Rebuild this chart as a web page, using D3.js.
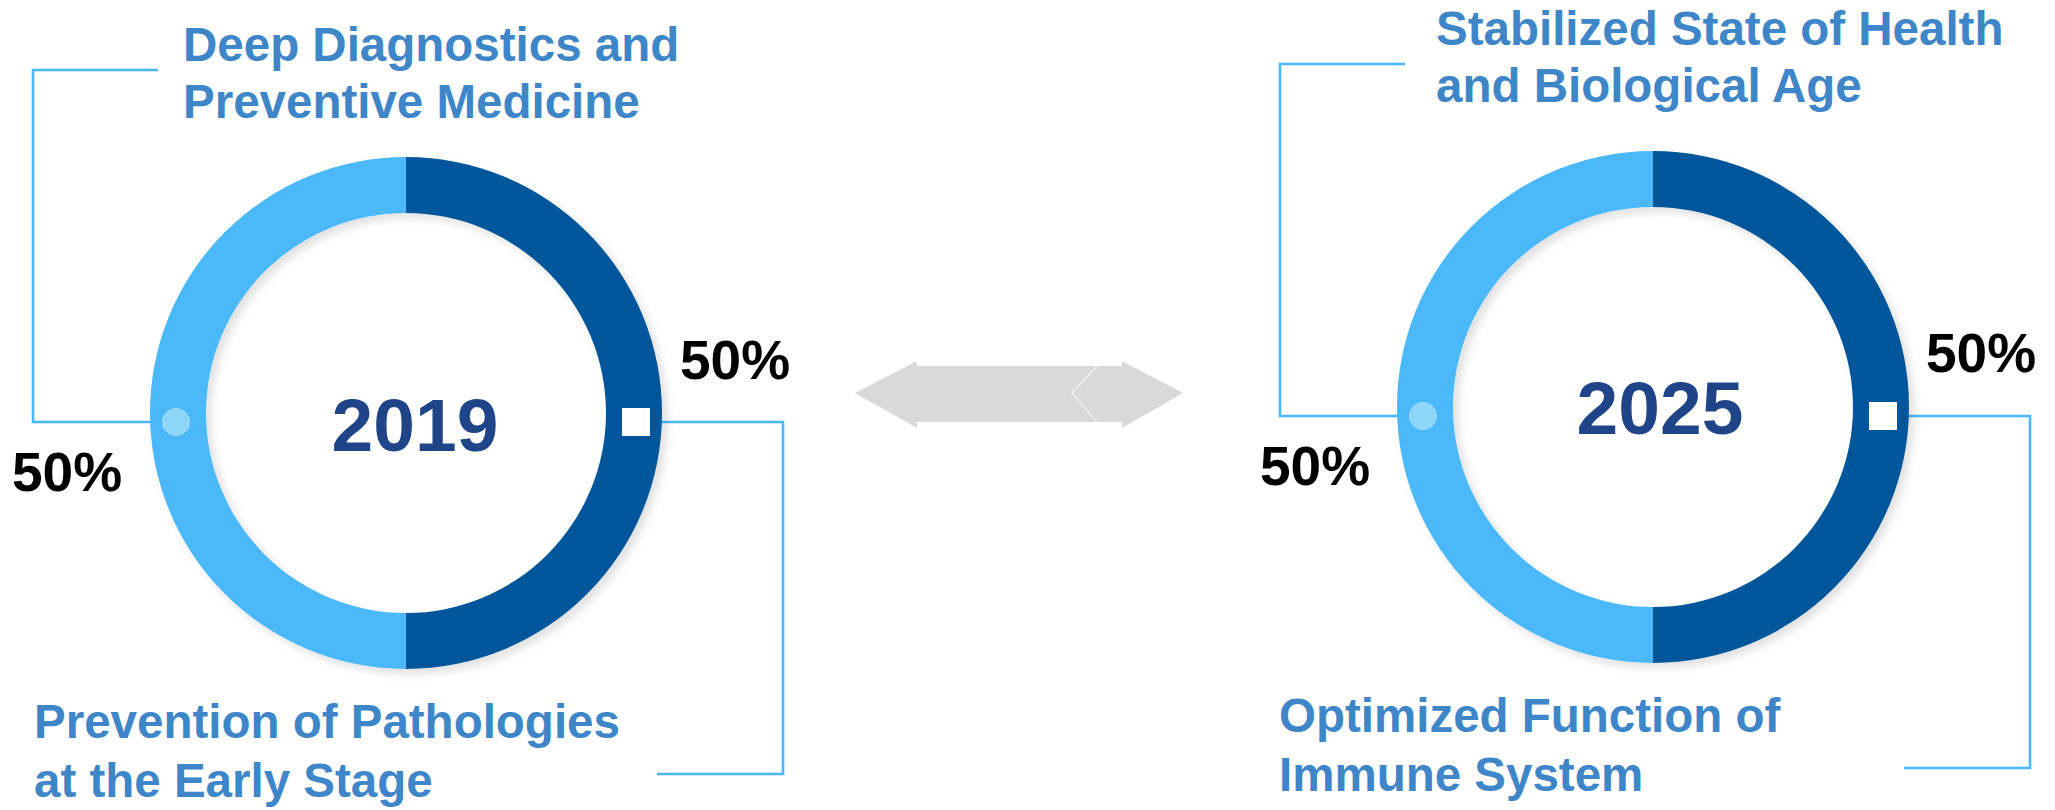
<!DOCTYPE html>
<html>
<head>
<meta charset="utf-8">
<script src="https://cdn.jsdelivr.net/npm/d3@7/dist/d3.min.js"></script>
<style>
  html, body { margin: 0; padding: 0; background: #ffffff; }
  svg { display: block; }
  text { font-family: "Liberation Sans", Arial, sans-serif; font-weight: bold; }
</style>
</head>
<body>
<div id="chart"></div>
<script>
// ---- data ----
const years = ["2019", "2025"];
const darkShare = [50, 50];   // right half (dark blue)
const lightShare = [50, 50];  // left half (light blue)
const topLabels = [
  ["Deep Diagnostics and", "Preventive Medicine"],
  ["Stabilized State of Health", "and Biological Age"]
];
const bottomLabels = [
  ["Prevention of Pathologies", "at the Early Stage"],
  ["Optimized Function of", "Immune System"]
];

// ---- layout ----
const W = 2055, H = 810;
const layout = [
  { cx: 406, cy: 413, yearX: 415, yearY: 451, top: [183, 61], bottom: [34, 738], pctR: [680, 379], pctL: [12, 491] },
  { cx: 1653, cy: 407, yearX: 1660, yearY: 434, top: [1436, 45], bottom: [1279, 732], pctR: [1926, 372], pctL: [1260, 485] }
];
const R = 256, r = 200;
const colDark = "#02569B", colLight = "#4BB8FA", colLine = "#4AB8F7";
const colLabel = "#3E86C8", colYear = "#1F4588";

const svg = d3.select("#chart").append("svg").attr("width", W).attr("height", H);

const defs = svg.append("defs");
const f = defs.append("filter").attr("id", "shadow").attr("x", "-10%").attr("y", "-10%").attr("width", "125%").attr("height", "125%");
f.append("feDropShadow").attr("dx", 5).attr("dy", 5).attr("stdDeviation", 4).attr("flood-color", "#000").attr("flood-opacity", 0.12);

const pie = d3.pie().sort(null).value(d => d.v).startAngle(0).endAngle(2 * Math.PI);
const arc = d3.arc().innerRadius(r).outerRadius(R);

// ---- double arrow in the middle ----
const arrowPts = [[855,393],[917,361],[917,366],[1122,366],[1122,361],[1183,393],[1122,428],[1122,422],[917,422],[917,428]];
svg.append("polygon").attr("points", arrowPts.map(p => p.join(",")).join(" ")).attr("fill", "#D9D9D9");
svg.append("polyline").attr("points", "1097,366 1072,393 1097,422").attr("fill", "none").attr("stroke", "#F2F2F2").attr("stroke-width", 1.2);

years.forEach((yr, i) => {
  const L = layout[i];
  const g = svg.append("g");
  const ly = L.cy + 9;

  // connectors
  g.append("path")
    .attr("d", `M${L.cx - R + 4},${ly}H${L.cx - 373}V${L.cy - 343}H${L.cx - 248}`)
    .attr("fill", "none").attr("stroke", colLine).attr("stroke-width", 2.6);
  g.append("path")
    .attr("d", `M${L.cx + 240},${ly}H${L.cx + 377}V${L.cy + 361}H${L.cx + 251}`)
    .attr("fill", "none").attr("stroke", colLine).attr("stroke-width", 2.6);

  // donut
  const slices = pie([{ k: "dark", v: darkShare[i] }, { k: "light", v: lightShare[i] }]);
  const ring = g.append("g").attr("transform", `translate(${L.cx},${L.cy})`).attr("filter", "url(#shadow)");
  ring.selectAll("path").data(slices).join("path")
    .attr("d", arc)
    .attr("fill", d => d.data.k === "dark" ? colDark : colLight);

  // markers
  g.append("circle").attr("cx", L.cx - 230).attr("cy", ly).attr("r", 13.5)
    .attr("fill", "#8DD5F9").attr("stroke", "#A9E0FB").attr("stroke-width", 1);
  g.append("rect").attr("x", L.cx + 216).attr("y", ly - 14).attr("width", 28).attr("height", 28).attr("fill", "#ffffff");

  // year
  g.append("text").attr("x", L.yearX).attr("y", L.yearY).attr("text-anchor", "middle")
    .attr("font-size", 75).attr("fill", colYear).text(yr);

  // percentages
  g.append("text").attr("x", L.pctR[0]).attr("y", L.pctR[1]).attr("font-size", 55).attr("fill", "#000")
    .text(darkShare[i] + "%");
  g.append("text").attr("x", L.pctL[0]).attr("y", L.pctL[1]).attr("font-size", 55).attr("fill", "#000")
    .text(lightShare[i] + "%");

  // labels
  const tl = g.append("text").attr("font-size", 47.5).attr("fill", colLabel);
  topLabels[i].forEach((s, j) => tl.append("tspan").attr("x", L.top[0]).attr("y", L.top[1] + j * 57).text(s));
  const bl = g.append("text").attr("font-size", 47.5).attr("fill", colLabel);
  bottomLabels[i].forEach((s, j) => bl.append("tspan").attr("x", L.bottom[0]).attr("y", L.bottom[1] + j * 58.5).text(s));
});
</script>
</body>
</html>
